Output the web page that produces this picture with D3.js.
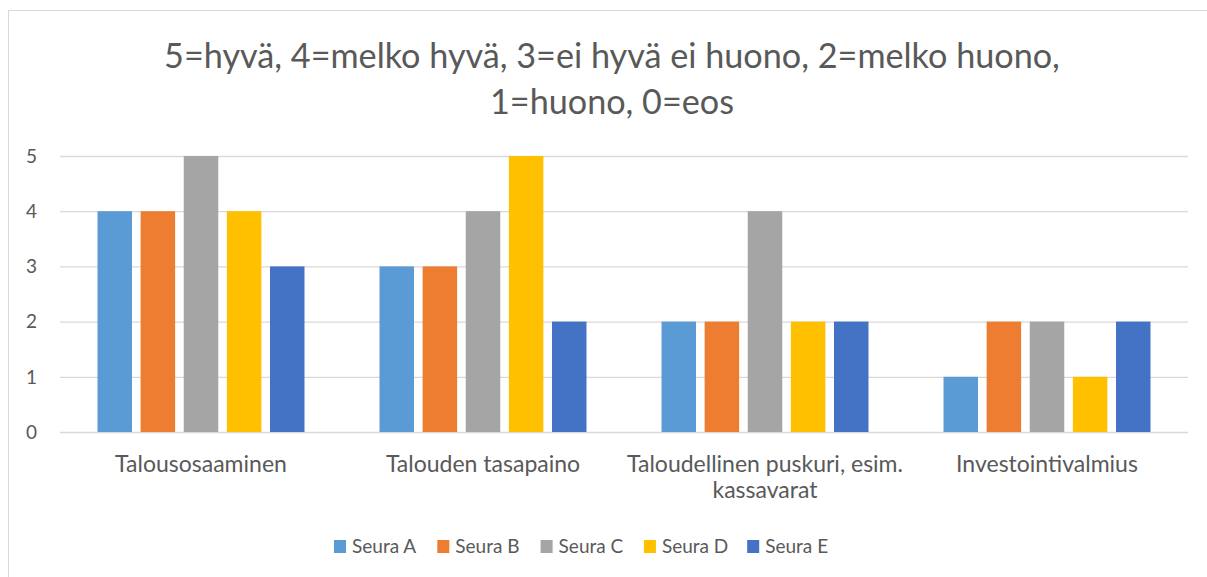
<!DOCTYPE html>
<html lang="fi">
<head>
    <meta charset="utf-8">
    <title>Seurat</title>
    <script type="text/javascript" src="https://d3js.org/d3.v7.min.js"></script>
    <style>
        body { margin: 0; background: white; overflow: hidden; }
        text { font-family: Lato, "Open Sans", sans-serif; fill: #595959; }
        .grid line { stroke: #d9d9d9; stroke-width: 1.3px; }
        .grid path { display: none; }
    </style>
</head>
<body>
    <div id="chart"></div>
    <script type="text/javascript">
        // data
        const categories = ["Talousosaaminen", "Talouden tasapaino", "Taloudellinen puskuri, esim. kassavarat", "Investointivalmius"];
        const seriesNames = ["Seura A", "Seura B", "Seura C", "Seura D", "Seura E"];
        const seuraA = [4, 3, 2, 1];
        const seuraB = [4, 3, 2, 2];
        const seuraC = [5, 4, 4, 2];
        const seuraD = [4, 5, 2, 1];
        const seuraE = [3, 2, 2, 2];
        const yTicks = [0, 1, 2, 3, 4, 5];
        const colors = ["#5b9bd5", "#ed7d31", "#a5a5a5", "#ffc000", "#4472c4"];
        const titleLines = ["5=hyvä, 4=melko hyvä, 3=ei hyvä ei huono, 2=melko huono,", "1=huono, 0=eos"];

        const allSeries = [seuraA, seuraB, seuraC, seuraD, seuraE];

        const width = 1207;
        const height = 577;
        const margin = {left: 60, right: 19, top: 156, bottom: 145};

        const svg = d3.select("#chart")
            .append("svg")
            .attr("width", width)
            .attr("height", height)
            .style("display", "block");

        // chart frame (only left and top edges fall inside the picture)
        svg.append("rect")
            .attr("x", 8.5).attr("y", 10.5)
            .attr("width", width + 20).attr("height", height + 20)
            .attr("fill", "white")
            .attr("stroke", "#d9d9d9");

        // title
        svg.append("g")
            .selectAll("text")
            .data(titleLines)
            .enter()
            .append("text")
                .attr("x", 612)
                .attr("y", (d, i) => 68 + i * 46)
                .attr("text-anchor", "middle")
                .attr("font-size", "34.2px")
                .text(d => d);

        const x0 = d3.scaleBand()
            .domain(categories)
            .range([margin.left, width - margin.right])
            .padding(0);

        const x1 = d3.scaleBand()
            .domain(seriesNames)
            .range([x0.bandwidth() * 0.133, x0.bandwidth() * 0.867])
            .paddingInner(0.2);

        const y = d3.scaleLinear()
            .domain([0, 5])
            .range([height - margin.bottom, margin.top]);

        // gridlines
        svg.append("g")
            .attr("class", "grid")
            .attr("transform", `translate(${margin.left}, 0)`)
            .call(d3.axisRight(y).tickValues(yTicks).tickSize(width - margin.left - margin.right).tickFormat(""));

        // y labels
        svg.append("g")
            .selectAll("text")
            .data(yTicks)
            .enter()
            .append("text")
                .attr("x", 37)
                .attr("y", d => y(d))
                .attr("dy", "0.36em")
                .attr("text-anchor", "end")
                .attr("font-size", "19px")
                .text(d => d);

        // bars
        const groups = svg.append("g")
            .selectAll("g")
            .data(categories)
            .enter()
            .append("g")
                .attr("transform", d => `translate(${x0(d)}, 0)`);

        groups.selectAll("rect")
            .data((c, ci) => seriesNames.map((s, si) => ({s: s, si: si, v: allSeries[si][ci]})))
            .enter()
            .append("rect")
                .attr("x", d => x1(d.s))
                .attr("y", d => y(d.v))
                .attr("width", x1.bandwidth())
                .attr("height", d => y(0) - y(d.v))
                .attr("fill", d => colors[d.si]);

        // category labels, wrapped
        function wrapLines(label, maxWidth) {
            const words = label.split(" ");
            const lines = [];
            let line = "";
            words.forEach(w => {
                const test = line ? line + " " + w : w;
                if (test.length * 9.5 > maxWidth && line) {
                    lines.push(line);
                    line = w;
                } else {
                    line = test;
                }
            });
            lines.push(line);
            return lines;
        }

        categories.forEach(c => {
            const t = svg.append("text")
                .attr("text-anchor", "middle")
                .attr("font-size", "23px")
                .attr("x", x0(c) + x0.bandwidth() / 2)
                .attr("y", 472);
            wrapLines(c, 275).forEach((l, i) => {
                t.append("tspan")
                    .attr("x", x0(c) + x0.bandwidth() / 2)
                    .attr("dy", i === 0 ? 0 : 26)
                    .text(l);
            });
        });

        // legend
        const legend = svg.append("g")
            .selectAll("g")
            .data(seriesNames)
            .enter()
            .append("g")
                .attr("transform", (d, i) => `translate(${334 + i * 103.3}, 540)`);

        legend.append("rect")
            .attr("width", 12).attr("height", 13)
            .attr("fill", (d, i) => colors[i]);

        legend.append("text")
            .attr("x", 18)
            .attr("y", 6.5)
            .attr("dy", "0.36em")
            .attr("font-size", "19px")
            .text(d => d);
    </script>
</body>
</html>
